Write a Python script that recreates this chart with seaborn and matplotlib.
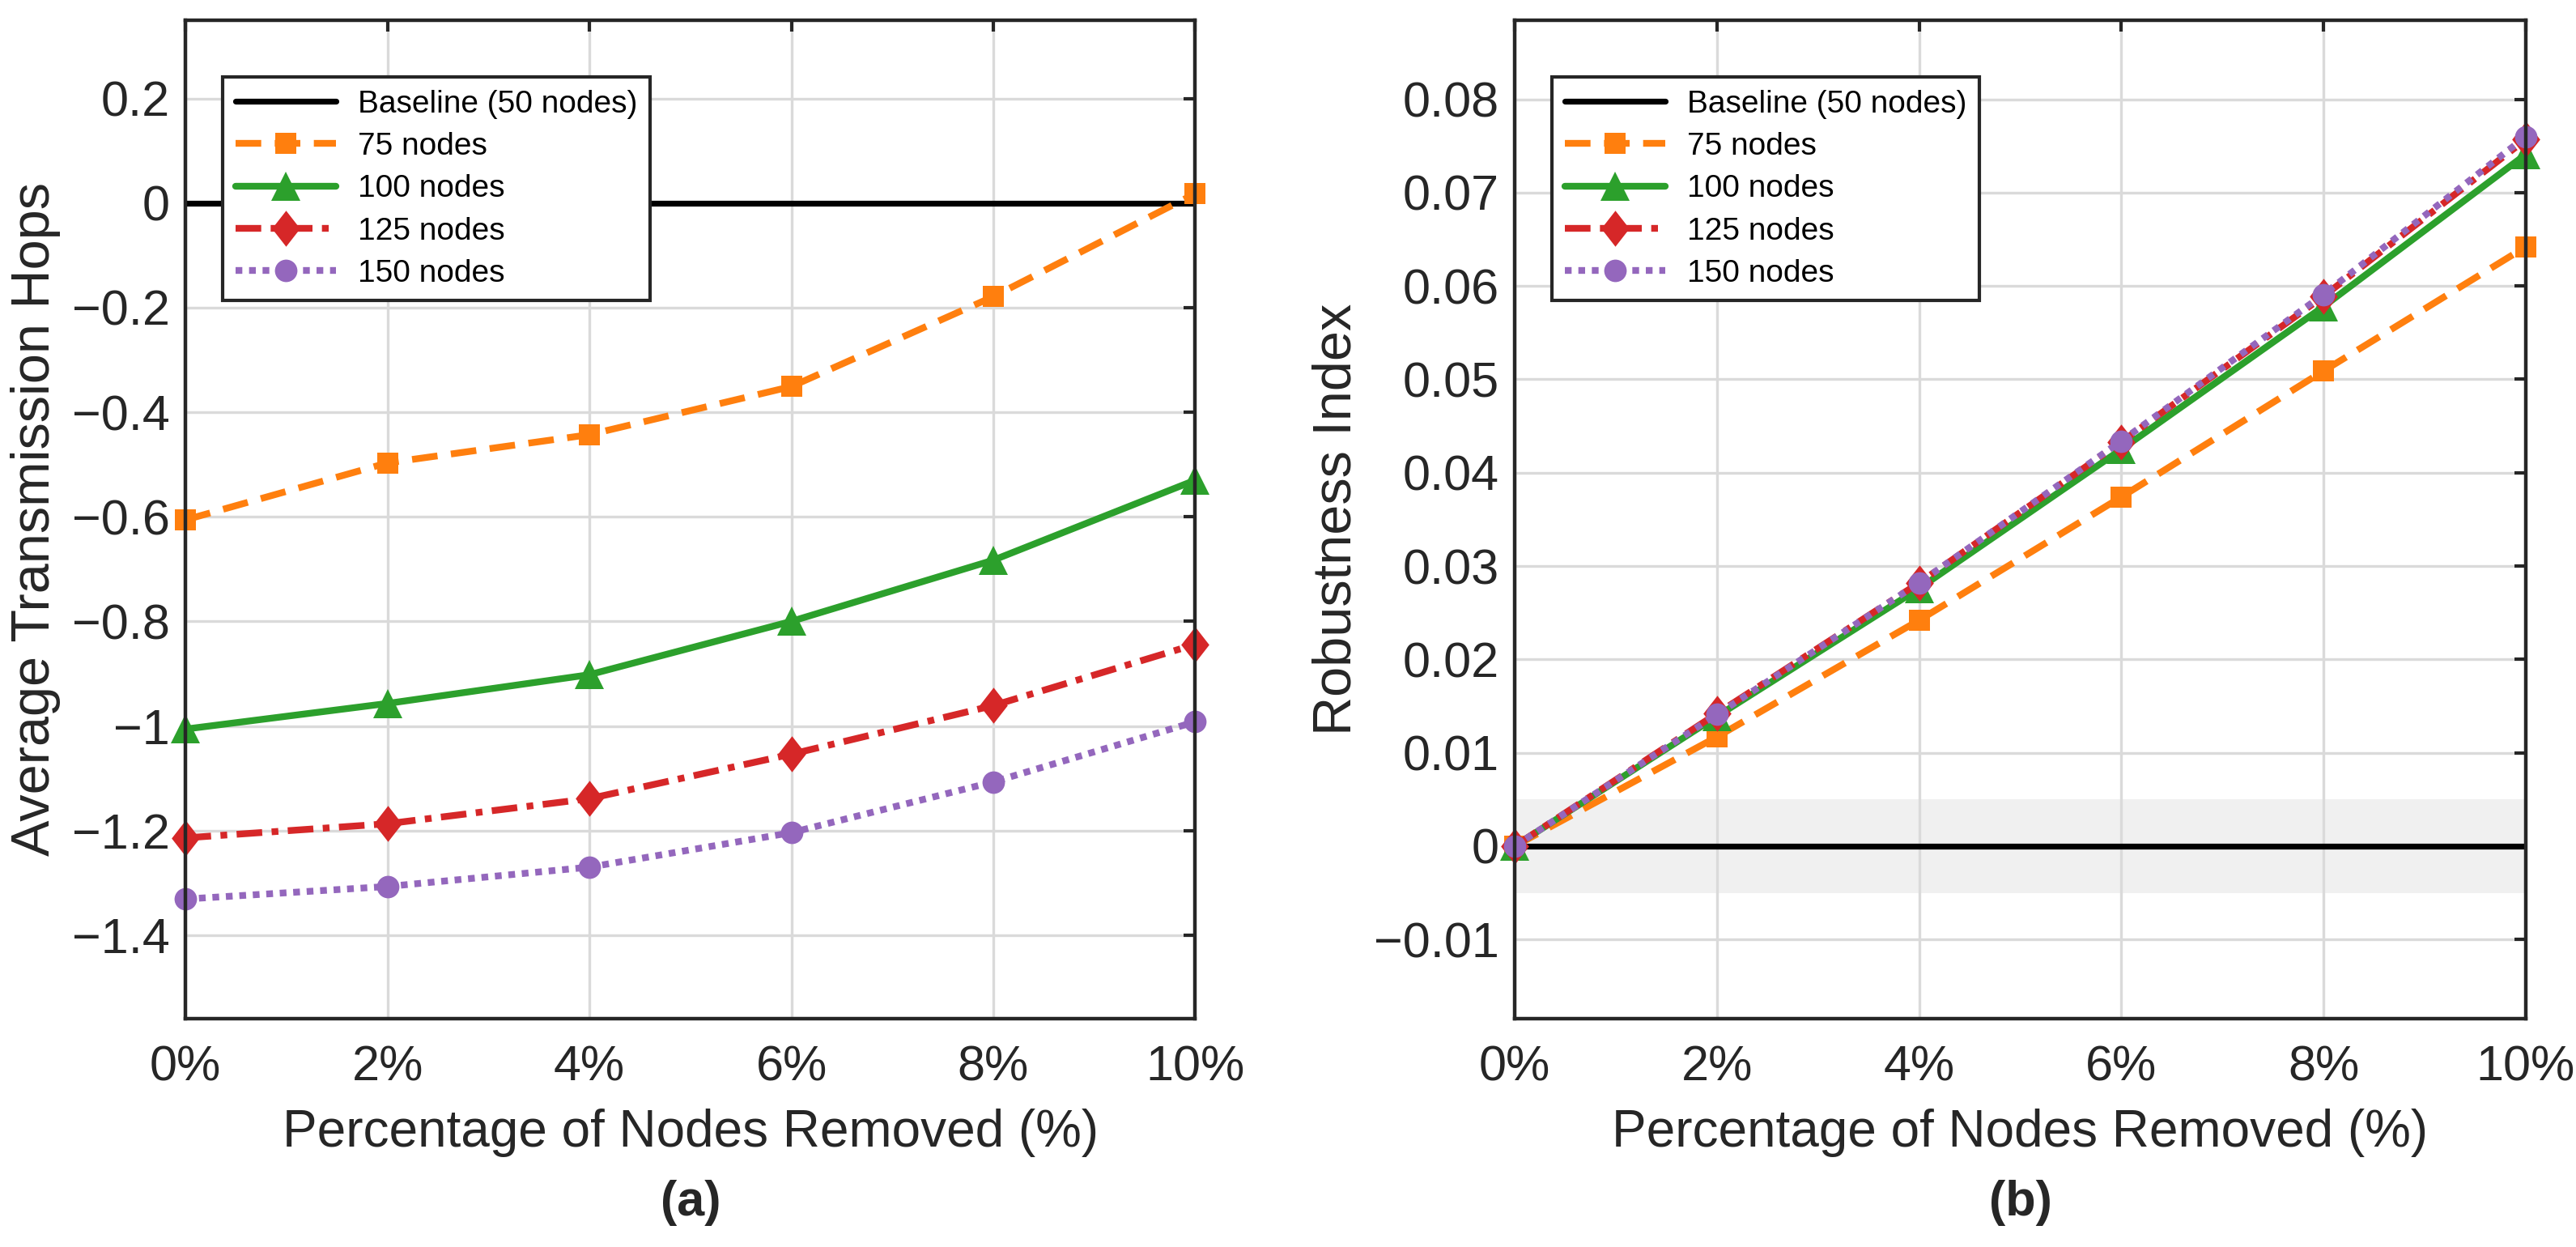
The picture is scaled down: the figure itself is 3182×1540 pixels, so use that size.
import matplotlib
matplotlib.use("Agg")
import matplotlib.pyplot as plt
from matplotlib.ticker import FuncFormatter, MultipleLocator
import seaborn as sns

# data
pct_removed = [0, 2, 4, 6, 8, 10]
series_names = ["75 nodes", "100 nodes", "125 nodes", "150 nodes"]

hops_75 = [-0.606, -0.497, -0.443, -0.351, -0.179, 0.018]
hops_100 = [-1.006, -0.957, -0.902, -0.800, -0.683, -0.530]
hops_125 = [-1.214, -1.187, -1.139, -1.054, -0.961, -0.844]
hops_150 = [-1.331, -1.307, -1.270, -1.204, -1.107, -0.992]

robust_75 = [0.0, 0.0117, 0.0242, 0.0374, 0.0509, 0.0642]
robust_100 = [0.0, 0.0139, 0.0276, 0.0425, 0.0578, 0.0741]
robust_125 = [0.0, 0.0142, 0.0282, 0.0433, 0.0589, 0.0757]
robust_150 = [0.0, 0.0141, 0.0282, 0.0434, 0.0591, 0.0760]

baseline_label = "Baseline (50 nodes)"
band_half_width = 0.005

sns.set_theme(style="white")
plt.rcParams["font.family"] = ["Liberation Sans", "DejaVu Sans"]
plt.rcParams["axes.unicode_minus"] = True

colors = ["#ff7f0e", "#2ca02c", "#d62728", "#9467bd"]
styles = [(0, (3.8, 2.0)), "-", (0, (3.8, 1.4, 1.0, 1.4)), (0, (1.0, 1.0))]
diamond = [(0, 1), (0.78, 0), (0, -1), (-0.78, 0), (0, 1)]
markers = ["s", "^", diamond, "o"]
msizes = [9.5, 13, 16, 10]

txt = "#262626"


def fmt_num(v, pos):
    s = "{:g}".format(round(v, 6))
    if s == "-0":
        s = "0"
    return s.replace("-", "\u2212")


def draw_panel(ax, values, ylabel, ylim, ystep, tag, band=False):
    if band:
        ax.axhspan(-band_half_width, band_half_width, color="#f0f0f0", zorder=0.1, lw=0)
    ax.axhline(0, color="black", lw=2.6, label=baseline_label, zorder=1.5)
    for name, vals, c, ls, mk, ms in zip(series_names, values, colors, styles, markers, msizes):
        sns.lineplot(x=pct_removed, y=vals, ax=ax, color=c, linestyle=ls, marker=mk,
                     markersize=ms, markeredgewidth=0, linewidth=3, label=name,
                     errorbar=None, zorder=3, clip_on=False)
    ax.set_xlim(0, 10)
    ax.set_ylim(*ylim)
    ax.xaxis.set_major_locator(MultipleLocator(2))
    ax.yaxis.set_major_locator(MultipleLocator(ystep))
    ax.xaxis.set_major_formatter(FuncFormatter(lambda v, p: "{:g}%".format(v)))
    ax.yaxis.set_major_formatter(FuncFormatter(fmt_num))
    ax.set_axisbelow(True)
    ax.grid(True, color="#dadada", lw=1.2)
    for sp in ax.spines.values():
        sp.set_color(txt)
        sp.set_linewidth(1.6)
        sp.set_zorder(4)
    ax.tick_params(direction="in", top=True, right=True, length=5, width=1.5,
                   colors=txt, labelsize=22)
    ax.tick_params(axis="x", pad=11.5)
    ax.tick_params(axis="y", pad=7)
    ax.set_xlabel("Percentage of Nodes Removed (%)", fontsize=23, color=txt, labelpad=8)
    ax.set_ylabel(ylabel, fontsize=24, color=txt, labelpad=5)
    ax.text(0.5, -0.184, tag, transform=ax.transAxes, ha="center", va="center",
            fontsize=22, fontweight="bold", color=txt)
    leg = ax.legend(loc="upper left", bbox_to_anchor=(0.037, 0.943), fontsize=14,
                    frameon=True, fancybox=False, framealpha=1, edgecolor=txt,
                    handlelength=3.2, labelspacing=0.42, borderpad=0.4,
                    handletextpad=0.7, borderaxespad=0)
    leg.get_frame().set_linewidth(1.5)
    leg.set_zorder(5)
    for t in leg.get_texts():
        t.set_color("black")


fig = plt.figure(figsize=(15.91, 7.7), dpi=200)
ax1 = fig.add_axes([0.072, 0.183, 0.392, 0.801])
ax2 = fig.add_axes([0.588, 0.183, 0.3925, 0.801])

draw_panel(ax1, [hops_75, hops_100, hops_125, hops_150], "Average Transmission Hops",
           (-1.56, 0.35), 0.2, "(a)")
draw_panel(ax2, [robust_75, robust_100, robust_125, robust_150], "Robustness Index",
           (-0.0185, 0.0885), 0.01, "(b)", band=True)

fig.savefig("out.png", dpi=200)
